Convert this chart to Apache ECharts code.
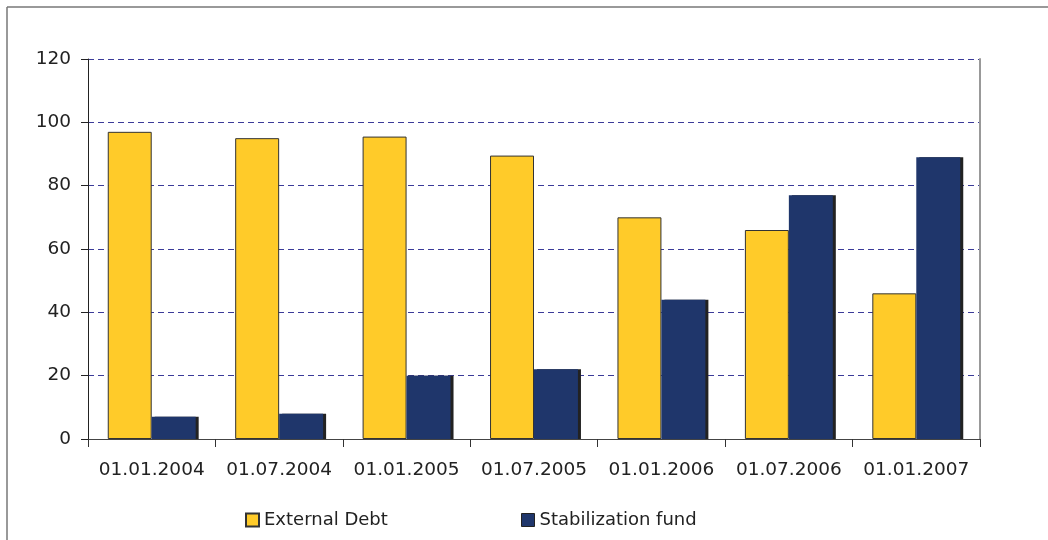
<!DOCTYPE html>
<html>
<head>
<meta charset="utf-8">
<script src="https://cdn.jsdelivr.net/npm/echarts@6/dist/echarts.min.js"></script>
<style>
  html, body { margin: 0; padding: 0; background: #fff; }
  #chart { width: 1048px; height: 540px; }
</style>
</head>
<body>
<div id="chart"></div>
<script>
const categories = ['01.01.2004', '01.07.2004', '01.01.2005', '01.07.2005', '01.01.2006', '01.07.2006', '01.01.2007'];
const externalDebt = [97, 95, 95.5, 89.5, 70, 66, 46];
const stabilizationFund = [7, 8, 20, 22, 44, 77, 89];
const yTicks = [0, 20, 40, 60, 80, 100, 120];

const font = '"DejaVu Sans", sans-serif';
const chart = echarts.init(document.getElementById('chart'));

chart.setOption({
  animation: false,
  backgroundColor: '#fff',
  textStyle: { fontFamily: font },
  graphic: [
    { type: 'line', shape: { x1: 7, y1: 7, x2: 1048, y2: 7 }, style: { stroke: '#777', lineWidth: 1.5 } },
    { type: 'line', shape: { x1: 7, y1: 7, x2: 7, y2: 540 }, style: { stroke: '#777', lineWidth: 1.5 } }
  ],
  grid: { left: 88, right: 68, top: 59, bottom: 101 },
  legend: [
    {
      data: ['External Debt'],
      left: 240, top: 506,
      itemWidth: 13, itemHeight: 13, itemGap: 6,
      icon: 'rect',
      textStyle: { fontSize: 18, color: '#222', fontFamily: font }
    },
    {
      data: [{ name: 'Stabilization fund', itemStyle: { borderColor: '#222', borderWidth: 1 } }],
      left: 516, top: 506,
      itemWidth: 13, itemHeight: 13, itemGap: 6,
      icon: 'rect',
      textStyle: { fontSize: 18, color: '#222', fontFamily: font }
    }
  ],
  xAxis: {
    type: 'category',
    data: categories,
    axisLine: { lineStyle: { color: '#444', width: 1 } },
    axisTick: { show: true, length: 8, lineStyle: { color: '#333' } },
    axisLabel: { interval: 0, hideOverlap: false, fontSize: 18.5, color: '#222', margin: 22, fontFamily: font }
  },
  yAxis: [
    {
      type: 'value',
      min: yTicks[0],
      max: yTicks[yTicks.length - 1],
      interval: 20,
      axisLine: { show: true, lineStyle: { color: '#222', width: 1 } },
      axisTick: { show: true, length: 7, lineStyle: { color: '#222' } },
      axisLabel: { fontSize: 18.5, color: '#222', margin: 17, fontFamily: font },
      splitLine: { show: true, lineStyle: { color: '#3b3b99', type: [6, 4], width: 1 } }
    },
    {
      type: 'value',
      position: 'right',
      min: 0, max: 120, interval: 20,
      axisLine: { show: true, lineStyle: { color: '#999', width: 2 } },
      axisTick: { show: false },
      axisLabel: { show: false },
      splitLine: { show: false }
    }
  ],
  series: [
    {
      name: 'External Debt',
      type: 'bar',
      data: externalDebt,
      barGap: '0%',
      barCategoryGap: '31%',
      itemStyle: { color: '#FFCB29', borderColor: '#333', borderWidth: 1 }
    },
    {
      name: 'Stabilization fund',
      type: 'bar',
      data: stabilizationFund,
      itemStyle: {
        color: '#1F366B',
        borderColor: '#222',
        borderWidth: 0,
        shadowColor: '#222',
        shadowOffsetX: 3,
        shadowOffsetY: 0,
        shadowBlur: 0
      }
    }
  ]
});
</script>
</body>
</html>
